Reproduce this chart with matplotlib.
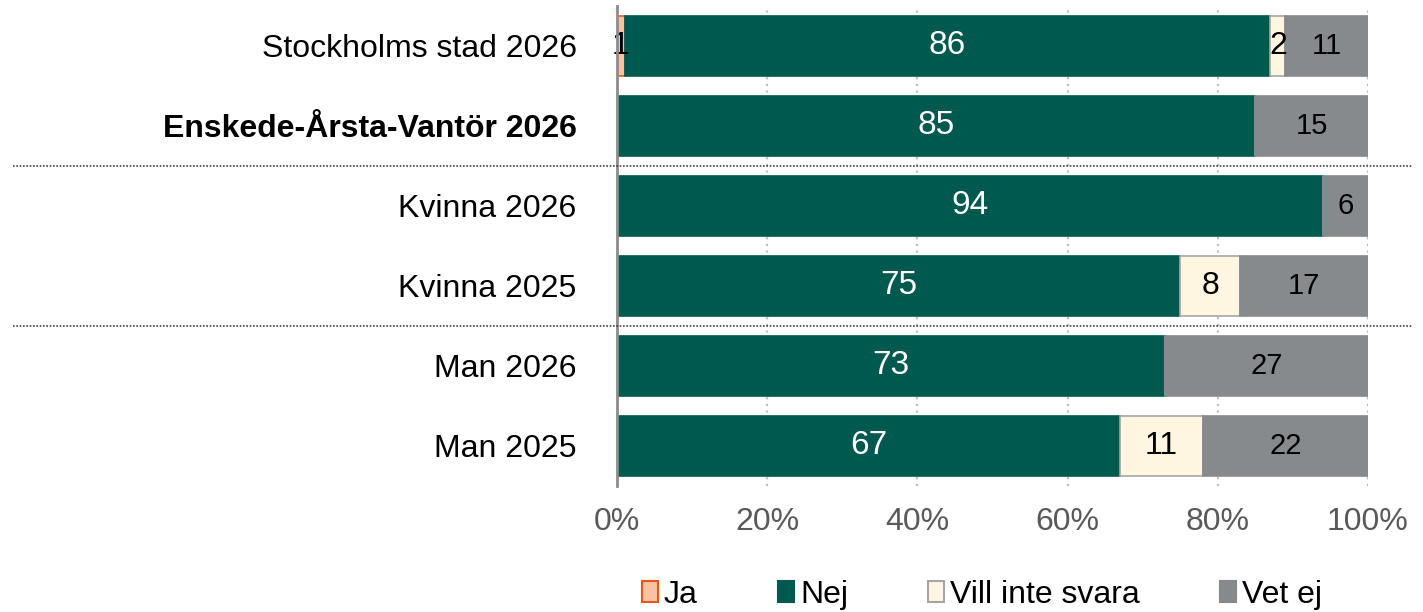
import numpy as np
import matplotlib.pyplot as plt
from matplotlib.lines import Line2D
from matplotlib.patches import Patch

plt.rcParams["font.family"] = ["Liberation Sans", "DejaVu Sans"]

# --------- data (percent) ---------
groups = ["Stockholms stad 2026", "Enskede-Årsta-Vantör 2026",
          "Kvinna 2026", "Kvinna 2025", "Man 2026", "Man 2025"]
ja        = [1, 0, 0, 0, 0, 0]
nej       = [86, 85, 94, 75, 73, 67]
vill_inte = [2, 0, 0, 8, 0, 11]
vet_ej    = [11, 15, 6, 17, 27, 22]

series = [
    ("Ja",              ja,        "#F9C3A1", "#E8561C", "black", 23),
    ("Nej",             nej,       "#00594F", "#00594F", "white", 24),
    ("Vill inte svara", vill_inte, "#FFF6E1", "#A6A6A6", "black", 23),
    ("Vet ej",          vet_ej,    "#878A8C", "#878A8C", "black", 21),
]

fig = plt.figure(figsize=(14.23, 6.12), dpi=100)
ax = fig.add_axes([0.4336, 0.2059, 0.5277, 0.7843])

y = np.arange(len(groups))
left = np.zeros(len(groups))
for name, vals, fc, ec, tc, fs in series:
    vals = np.array(vals, dtype=float)
    ax.barh(y, vals, left=left, height=0.75, color=fc, edgecolor=ec,
            linewidth=1.2, label=name, zorder=3)
    for yi, (l, v) in enumerate(zip(left, vals)):
        if v > 0:
            ax.text(l + v / 2, yi, f"{v:.0f}", ha="center", va="center",
                    color=tc, fontsize=fs, zorder=4)
    left += vals

ax.set_xlim(0, 100)
ax.set_ylim(len(groups) - 0.5, -0.5)
ax.set_xticks(np.arange(0, 101, 20))
ax.set_xticklabels([f"{t}%" for t in range(0, 101, 20)])
ax.set_yticks(y)
ax.set_yticklabels(groups)
ax.get_yticklabels()[1].set_fontweight("bold")

ax.tick_params(axis="y", length=0, pad=29, labelsize=23, labelcolor="black")
ax.tick_params(axis="x", length=0, pad=15, labelsize=23, labelcolor="#595959")

# dotted vertical gridlines
ax.xaxis.grid(True, color="#BFBFBF", linestyle=(0, (1, 2)), linewidth=1.6, zorder=0)
ax.set_axisbelow(True)

for s in ["top", "right", "bottom"]:
    ax.spines[s].set_visible(False)
ax.spines["left"].set_color("#8C8C8C")
ax.spines["left"].set_linewidth(2)
ax.spines["left"].set_zorder(5)

# separators between the group blocks
for yf in [0.7288, 0.4673]:
    fig.add_artist(Line2D([0.009, 0.993], [yf, yf], transform=fig.transFigure,
                          color="#404040", linestyle=(0, (1, 1)), linewidth=1.2))

handles = [Patch(facecolor=fc, edgecolor=ec, linewidth=1.5, label=name)
           for name, _, fc, ec, _, _ in series]
fig.legend(handles=handles, loc="center", bbox_to_anchor=(0.69, 0.028),
           ncol=4, frameon=False, fontsize=23, handlelength=0.5,
           handleheight=0.6, handletextpad=0.2, columnspacing=2.5)

fig.savefig("out.png", dpi=100)
